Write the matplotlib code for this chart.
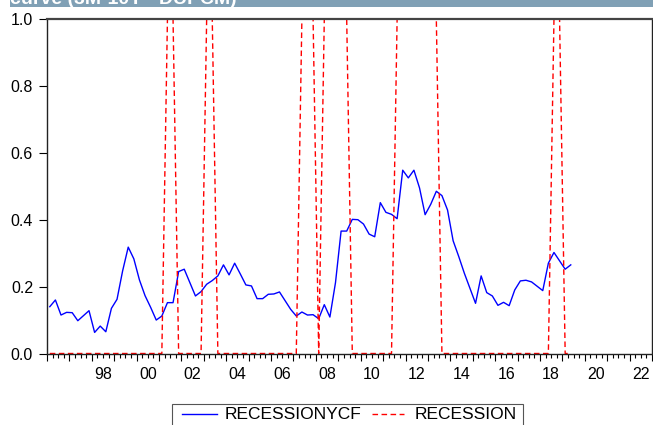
import matplotlib

matplotlib.use("Agg")
import matplotlib.pyplot as plt
from matplotlib.lines import Line2D
from matplotlib.patches import Rectangle
from matplotlib.ticker import MultipleLocator

plt.rcParams["font.family"] = ["Liberation Sans", "DejaVu Sans"]

# quarterly, 1996Q1 .. 2019Q2
START_YEAR = 1996
recession_ycf = [
    0.140, 0.160, 0.115, 0.123, 0.122, 0.098, 0.113, 0.128, 0.063, 0.082,
    0.065, 0.135, 0.162, 0.247, 0.318, 0.283, 0.220, 0.173, 0.138, 0.100,
    0.112, 0.152, 0.152, 0.245, 0.252, 0.212, 0.172, 0.185, 0.207, 0.218,
    0.232, 0.265, 0.235, 0.270, 0.238, 0.205, 0.202, 0.164, 0.164, 0.177,
    0.178, 0.184, 0.158, 0.132, 0.112, 0.124, 0.115, 0.116, 0.104, 0.146,
    0.109, 0.212, 0.366, 0.366, 0.401, 0.400, 0.387, 0.357, 0.349, 0.451,
    0.422, 0.416, 0.403, 0.548, 0.525, 0.548, 0.495, 0.415, 0.446, 0.485,
    0.472, 0.429, 0.337, 0.290, 0.240, 0.195, 0.150, 0.232, 0.182, 0.172,
    0.144, 0.153, 0.143, 0.190, 0.217, 0.219, 0.214, 0.201, 0.188, 0.270,
    0.302, 0.277, 0.252, 0.265,
]
recession = [
    0, 0, 0, 0, 0, 0, 0, 0, 0, 0,
    0, 0, 0, 0, 0, 0, 0, 0, 0, 0,
    0, 1, 1, 0, 0, 0, 0, 0, 1, 1,
    0, 0, 0, 0, 0, 0, 0, 0, 0, 0,
    0, 0, 0, 0, 0, 1, 1, 1, 0, 1,
    1, 1, 1, 1, 0, 0, 0, 0, 0, 0,
    0, 0, 1, 1, 1, 1, 1, 1, 1, 1,
    0, 0, 0, 0, 0, 0, 0, 0, 0, 0,
    0, 0, 0, 0, 0, 0, 0, 0, 0, 0,
    1, 1, 0, 0,
]
year_labels = ["98", "00", "02", "04", "06", "08", "10", "12", "14", "16", "18", "20", "22"]
title_text = "curve (3M-10Y - DUPCM)"

x = [START_YEAR + i / 4 + 0.125 for i in range(len(recession_ycf))]

fig = plt.figure(figsize=(6.53, 4.25), dpi=100)
ax = fig.add_axes([47 / 653, 1 - 353.5 / 425, 605 / 653, 334.5 / 425])

ax.plot(x, recession_ycf, color="#0000ff", lw=1.0)
ax.plot(x, recession, color="#ff0000", lw=1.0, ls=(0, (4, 2.5)), clip_on=False)

ax.set_xlim(1996, 2023)
ax.set_ylim(0, 1)

ax.set_yticks([0, 0.2, 0.4, 0.6, 0.8, 1.0])
ax.set_yticklabels(["0.0", "0.2", "0.4", "0.6", "0.8", "1.0"], fontsize=11.5)
ax.xaxis.set_major_locator(MultipleLocator(1))
ax.xaxis.set_minor_locator(MultipleLocator(0.25))
ax.set_xticklabels([])
ax.tick_params(axis="x", which="major", length=5, width=0.8, direction="out")
ax.tick_params(axis="x", which="minor", length=3, width=0.8, direction="out")
ax.tick_params(axis="y", length=6, width=0.8, direction="out", pad=4)
ax.tick_params(top=False, right=False)

for k, lab in enumerate(year_labels):
    ax.text(1998.5 + 2 * k, -0.04, lab, ha="center", va="top", fontsize=11.5,
            transform=ax.get_xaxis_transform())

for side in ["left", "bottom", "top", "right"]:
    ax.spines[side].set_color("#222222")
    ax.spines[side].set_linewidth(1.0)
ax.spines["top"].set_linewidth(1.6)
ax.spines["top"].set_color("#444444")

# grey title band, cut off at the top like the source image
fig.add_artist(Rectangle((10 / 653, 1 - 7 / 425), 643 / 653, 7 / 425,
                         transform=fig.transFigure, color="#80a0b5", lw=0))
fig.text(10 / 653, 1 - 3.5 / 425, title_text, color="white", fontsize=14,
         fontweight="bold", va="baseline", ha="left")

# legend box at the bottom
fig.add_artist(Rectangle((172 / 653, -10 / 425), 351 / 653, 31 / 425,
                         transform=fig.transFigure, fill=False, ec="#555555", lw=0.8))
fig.add_artist(Line2D([182 / 653, 217 / 653], [1 - 414 / 425] * 2,
                      transform=fig.transFigure, color="#0000ff", lw=1.0))
fig.text(225 / 653, 1 - 414.5 / 425, "RECESSIONYCF", fontsize=12.5, va="center", ha="left")
fig.add_artist(Line2D([372 / 653, 404 / 653], [1 - 414 / 425] * 2,
                      transform=fig.transFigure, color="#ff0000", lw=1.0, ls=(0, (4, 2.5))))
fig.text(415 / 653, 1 - 414.5 / 425, "RECESSION", fontsize=12.5, va="center", ha="left")

fig.savefig("out.png", dpi=100)
